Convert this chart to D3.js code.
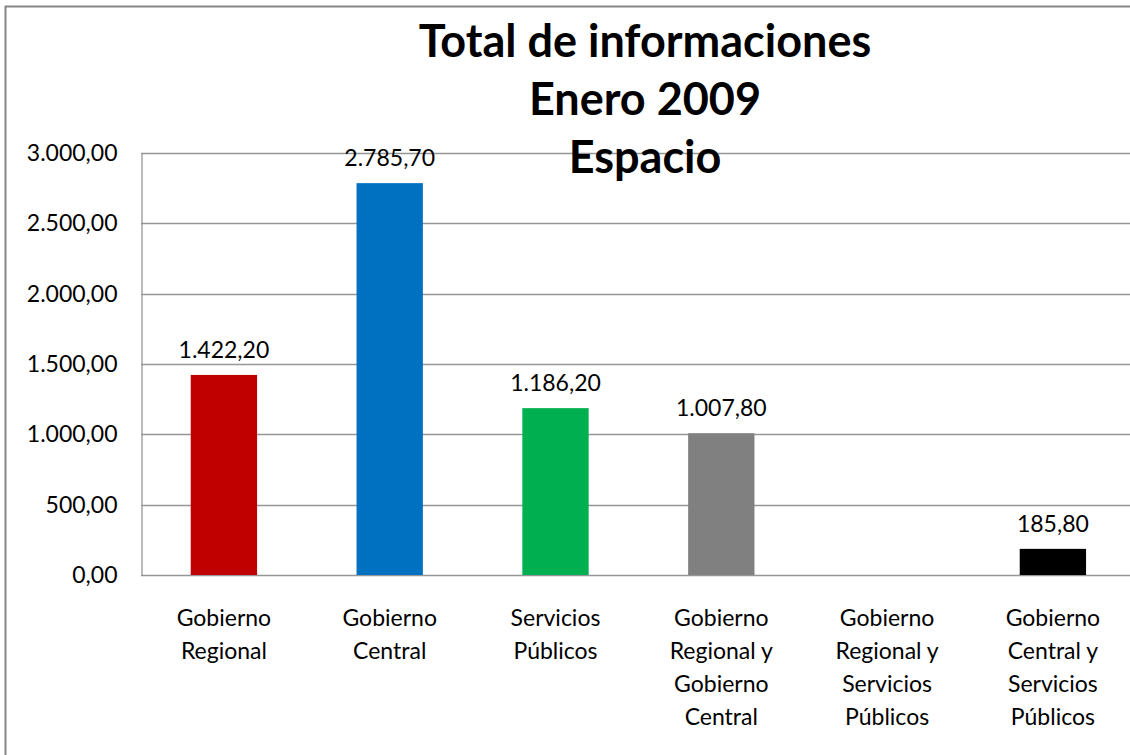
<!doctype html>
<html>
<head>
<meta charset="utf-8"/>
<title>Total de informaciones</title>
<script src="https://d3js.org/d3.v7.min.js"></script>
<style>
  body { margin: 0; background: #fff; overflow: hidden; }
  text { font-family: Lato, "Open Sans", sans-serif; fill: #000; }
</style>
</head>
<body>
<div id="grafico"></div>
<script>
// datos
var categorias = [
  ["Gobierno", "Regional"],
  ["Gobierno", "Central"],
  ["Servicios", "Públicos"],
  ["Gobierno", "Regional y", "Gobierno", "Central"],
  ["Gobierno", "Regional y", "Servicios", "Públicos"],
  ["Gobierno", "Central y", "Servicios", "Públicos"]
];
var valores = [1422.2, 2785.7, 1186.2, 1007.8, null, 185.8];
var colores = ["#C00000", "#0070C0", "#00B050", "#808080", "#808080", "#000000"];
var ticks = [0, 500, 1000, 1500, 2000, 2500, 3000];
var titulo = ["Total de informaciones", "Enero 2009", "Espacio"];

var W = 1130, H = 755;
var svg = d3.select("#grafico").append("svg")
  .attr("width", W).attr("height", H);

// borde del gráfico
svg.append("path")
  .attr("d", "M5.5," + H + "V6.5H" + W)
  .attr("fill", "none").attr("stroke", "#868686").attr("stroke-width", 2);

var x0 = 141, x1 = 141 + 6 * 165.8, yTop = 153, yBot = 575;

var x = d3.scaleBand()
  .domain(d3.range(categorias.length))
  .range([x0, x1])
  .paddingInner(0.6).paddingOuter(0.3);

var y = d3.scaleLinear().domain([0, 3000]).range([yBot, yTop]);

var fmt = d3.formatLocale({decimal: ",", thousands: ".", grouping: [3], currency: ["", ""]}).format(",.2f");

// tabla de barras con su índice
var barras = valores.map(function(v, i){ return {i: i, v: v, c: colores[i]}; })
  .filter(function(d){ return d.v !== null; });

// líneas de división
svg.selectAll(".grid").data(ticks).enter().append("line")
  .attr("x1", x0).attr("x2", W)
  .attr("y1", function(d){ return Math.round(y(d)) + 0.5; })
  .attr("y2", function(d){ return Math.round(y(d)) + 0.5; })
  .attr("stroke", "#969696").attr("stroke-width", 1.3);

// eje y
var ejeY = svg.append("g").attr("transform", "translate(" + (x0 + 0.5) + ",0)")
  .call(d3.axisLeft(y).tickValues(ticks).tickFormat(fmt).tickSize(0).tickPadding(24));
ejeY.select(".domain").attr("stroke", "#969696").attr("stroke-width", 1.3);
ejeY.selectAll("text").style("font-size", "23px").attr("font-family", null).attr("fill", "#000");

// barras
svg.selectAll(".barra").data(barras).enter().append("rect")
  .attr("x", function(d){ return x(d.i); })
  .attr("width", x.bandwidth())
  .attr("y", function(d){ return y(d.v); })
  .attr("height", function(d){ return yBot - y(d.v); })
  .attr("fill", function(d){ return d.c; });

// etiquetas de valor
svg.selectAll(".etiq").data(barras).enter().append("text")
  .attr("x", function(d){ return x(d.i) + x.bandwidth() / 2; })
  .attr("y", function(d){ return y(d.v) - 17; })
  .attr("text-anchor", "middle")
  .style("font-size", "23px")
  .text(function(d){ return fmt(d.v); });

// etiquetas de categoría
categorias.forEach(function(lineas, i){
  var t = svg.append("text")
    .attr("x", x(i) + x.bandwidth() / 2)
    .attr("y", 626)
    .attr("text-anchor", "middle")
    .style("font-size", "23px");
  lineas.forEach(function(l, j){
    t.append("tspan").attr("x", x(i) + x.bandwidth() / 2)
      .attr("dy", j === 0 ? 0 : 33).text(l);
  });
});

// título
titulo.forEach(function(l, j){
  svg.append("text")
    .attr("x", 645).attr("y", 57 + j * 58)
    .attr("text-anchor", "middle")
    .style("font-size", "45px").style("font-weight", "bold")
    .text(l);
});
</script>
</body>
</html>
